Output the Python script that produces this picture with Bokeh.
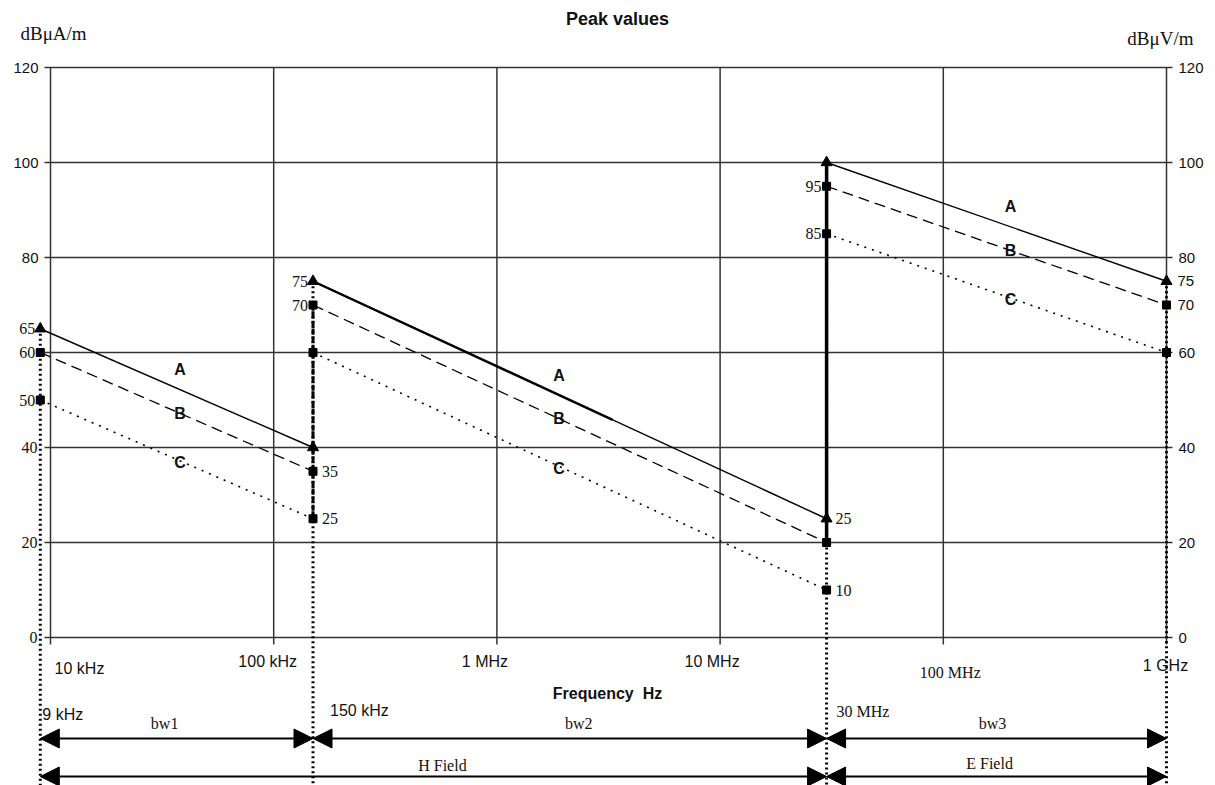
import numpy as np
from bokeh.plotting import figure
from bokeh.models import Range1d, Arrow, NormalHead
from bokeh.core.properties import value
from bokeh.embed import file_html
from bokeh.resources import INLINE

# ---------------- data ----------------
band_start_hz = [9e3, 150e3, 30e6]
band_end_hz = [150e3, 30e6, 1e9]
limit_a_start = [65, 75, 100]
limit_a_end = [40, 25, 75]
limit_b_start = [60, 70, 95]
limit_b_end = [35, 20, 70]
limit_c_start = [50, 60, 85]
limit_c_end = [25, 10, 60]
boundary_hz = [9e3, 150e3, 30e6, 1e9]
boundary_top = [65, 75, 100, 75]
boundary_labels = ["9 kHz", "150 kHz", "30 MHz"]
decade_hz = [1e4, 1e5, 1e6, 1e7, 1e8, 1e9]
decade_labels = ["10 kHz", "100 kHz", "1 MHz", "10 MHz", "100 MHz", "1 GHz"]
y_ticks = [0, 20, 40, 60, 80, 100, 120]
band_names = ["bw1", "bw2", "bw3"]
field_names = ["H Field", "E Field"]
field_start_hz = [9e3, 30e6]
field_end_hz = [30e6, 1e9]
curve_names = ["A", "B", "C"]
curve_label_hz = [38e3, 1.9e6, 200e6]
a_bold_end_hz = 3.3e6

# ---------------- layout helpers (page pixels -> data) ----------------
W, H = 1215, 785
DEC_PX = 223.2
PX_PER_DB = 4.75
def fx(px):
    return 10 ** (4 + (px - 50) / DEC_PX)
def fy(py):
    return (637 - py) / PX_PER_DB

SANS = value("Liberation Sans")
SERIF = value("Liberation Serif")
INK = "#111111"

p = figure(width=W, height=H, x_axis_type="log",
           x_range=Range1d(fx(0), fx(W)), y_range=Range1d(fy(H), fy(0)),
           output_backend="svg", toolbar_location=None, min_border=0,
           x_axis_location=None, y_axis_location=None)
p.outline_line_color = None
p.grid.visible = False
p.background_fill_color = "white"
p.border_fill_color = "white"

# ---------------- grid ----------------
p.segment(x0=[fx(44)] * len(y_ticks), x1=[fx(1172)] * len(y_ticks),
          y0=y_ticks, y1=y_ticks, line_color="#333333", line_width=1.5)
p.segment(x0=decade_hz, x1=decade_hz, y0=[fy(644)] * len(decade_hz),
          y1=[y_ticks[-1]] * len(decade_hz), line_color="#333333", line_width=1.5)

# ---------------- boundary verticals ----------------
bottom = fy(H + 10)
p.segment(x0=boundary_hz, x1=boundary_hz, y0=boundary_top, y1=[bottom] * 4,
          line_color="black", line_width=3, line_dash="2 3")
# 150 kHz dashed overlay and 30 MHz solid overlay
p.segment(x0=[band_start_hz[1]], x1=[band_start_hz[1]], y0=[limit_c_end[0]],
          y1=[limit_b_start[1]], line_color="black", line_width=3, line_dash="6 2")
p.segment(x0=[band_start_hz[2]], x1=[band_start_hz[2]], y0=[limit_b_end[1]],
          y1=[limit_a_start[2]], line_color="black", line_width=3.5)

# ---------------- limit lines ----------------
p.segment(x0=band_start_hz, x1=band_end_hz, y0=limit_a_start, y1=limit_a_end,
          line_color="black", line_width=1.4)
p.segment(x0=band_start_hz, x1=band_end_hz, y0=limit_b_start, y1=limit_b_end,
          line_color="black", line_width=1.3, line_dash="11 6")
p.segment(x0=band_start_hz, x1=band_end_hz, y0=limit_c_start, y1=limit_c_end,
          line_color="black", line_width=1.6, line_dash="2 6")

def on_line(f, f0, f1, v0, v1):
    t = (np.log10(f) - np.log10(f0)) / (np.log10(f1) - np.log10(f0))
    return v0 + t * (v1 - v0)

# bold portion of A in band 2
p.segment(x0=[band_start_hz[1]], x1=[a_bold_end_hz], y0=[limit_a_start[1]],
          y1=[on_line(a_bold_end_hz, band_start_hz[1], band_end_hz[1], limit_a_start[1], limit_a_end[1])],
          line_color="black", line_width=2.4)

# markers
tri_x = band_start_hz + band_end_hz
tri_y = limit_a_start + limit_a_end
p.scatter(tri_x, tri_y, marker="triangle", size=11, color="black")
sq_x = band_start_hz * 2 + band_end_hz * 2
sq_y = limit_b_start + limit_c_start + limit_b_end + limit_c_end
p.scatter(sq_x, sq_y, marker="square", size=8, color="black")

# ---------------- curve labels ----------------
lab_x, lab_y, lab_t, lab_dy = [], [], [], []
for i in range(3):
    f = curve_label_hz[i]
    for name, s, e, dy in (("A", limit_a_start, limit_a_end, 20),
                           ("B", limit_b_start, limit_b_end, 0),
                           ("C", limit_c_start, limit_c_end, -2)):
        lab_x.append(f)
        lab_y.append(on_line(f, band_start_hz[i], band_end_hz[i], s[i], e[i]))
        lab_t.append(name)
        lab_dy.append(dy)
p.text(x=lab_x, y=lab_y, text=lab_t, y_offset=[-d for d in lab_dy],
       text_font=SANS, text_font_style="bold", text_font_size="16px",
       text_align="center", text_baseline="middle", text_color=INK)

# ---------------- value annotations ----------------
left_x = [band_start_hz[0]] * 3 + [band_start_hz[1]] * 2 + [band_start_hz[2]] * 2
left_v = [limit_a_start[0], limit_b_start[0], limit_c_start[0],
          limit_a_start[1], limit_b_start[1], limit_b_start[2], limit_c_start[2]]
p.text(x=left_x, y=left_v, text=[str(v) for v in left_v], x_offset=-5,
       text_font=SERIF, text_font_size="16px", text_align="right",
       text_baseline="middle", text_color=INK)
right_x = [band_end_hz[0]] * 2 + [band_end_hz[1]] * 2
right_v = [limit_b_end[0], limit_c_end[0], limit_a_end[1], limit_c_end[1]]
p.text(x=right_x, y=right_v, text=[str(v) for v in right_v], x_offset=9,
       text_font=SERIF, text_font_size="16px", text_align="left",
       text_baseline="middle", text_color=INK)
r_end_v = [limit_a_end[2], limit_b_end[2]]
p.text(x=[band_end_hz[2]] * 2, y=r_end_v, text=[str(v) for v in r_end_v], x_offset=11,
       text_font=SANS, text_font_size="15px", text_align="left",
       text_baseline="middle", text_color=INK)

# ---------------- y tick labels ----------------
left_sans = [t for t in y_ticks if t >= 80]
left_serif = [t for t in y_ticks if t < 60]
p.text(x=[fx(38)] * len(left_sans), y=left_sans, text=[str(t) for t in left_sans],
       text_font=SANS, text_font_size="15px", text_align="right",
       text_baseline="middle", text_color=INK)
p.text(x=[fx(37)] * len(left_serif), y=left_serif, text=[str(t) for t in left_serif],
       text_font=SERIF, text_font_size="16px", text_align="right",
       text_baseline="middle", text_color=INK)
p.text(x=[fx(1178)] * len(y_ticks), y=y_ticks, text=[str(t) for t in y_ticks],
       text_font=SANS, text_font_size="15px", text_align="left",
       text_baseline="middle", text_color=INK)

# ---------------- units & title ----------------
p.text(x=[fx(20)], y=[fy(33)], text=["dBμA/m"], text_font=SERIF, text_font_size="19px",
       text_align="left", text_baseline="middle", text_color=INK)
p.text(x=[fx(1193)], y=[fy(38)], text=["dBμV/m"], text_font=SERIF, text_font_size="19px",
       text_align="right", text_baseline="middle", text_color=INK)
p.text(x=[fx(617)], y=[fy(18)], text=["Peak values"], text_font=SANS, text_font_style="bold",
       text_font_size="18px", text_align="center", text_baseline="middle", text_color=INK)

# ---------------- frequency labels ----------------
dec_dx = [29, -6, -12, -8, 7, -1]
dec_py = [668, 661, 661, 661, 672, 665]
for f, lab, dx, py in zip(decade_hz, decade_labels, dec_dx, dec_py):
    serif = lab == "100 MHz"
    p.text(x=[f], y=[fy(py)], text=[lab], x_offset=dx,
           text_font=SERIF if serif else SANS, text_font_size="16px",
           text_align="center", text_baseline="middle", text_color=INK)
p.text(x=[fx(607)], y=[fy(693)], text=["Frequency\u00a0\u00a0Hz"], text_font=SANS,
       text_font_style="bold", text_font_size="16px", text_align="center",
       text_baseline="middle", text_color=INK)

b_dx = [2, 17, 10]
b_py = [714, 710, 711]
for i, lab in enumerate(boundary_labels):
    p.text(x=[boundary_hz[i]], y=[fy(b_py[i])], text=[lab], x_offset=b_dx[i],
           text_font=SERIF if i == 2 else SANS, text_font_size="16px",
           text_align="left", text_baseline="middle", text_color=INK)

# ---------------- bandwidth / field arrows ----------------
def mid_hz(a, b):
    return 10 ** ((np.log10(a) + np.log10(b)) / 2)

row1 = fy(738)
row2 = fy(776)
bw_dx = [-12, 9, -4]
for i, name in enumerate(band_names):
    p.add_layout(Arrow(x_start=band_start_hz[i], x_end=band_end_hz[i], y_start=row1, y_end=row1,
                       line_color="black", line_width=2,
                       start=NormalHead(size=19, fill_color="black", line_color="black"),
                       end=NormalHead(size=19, fill_color="black", line_color="black")))
    p.text(x=[mid_hz(band_start_hz[i], band_end_hz[i])], y=[fy(723)], text=[name], x_offset=bw_dx[i],
           text_font=SERIF, text_font_size="16px", text_align="center",
           text_baseline="middle", text_color=INK)
fl_dx = [9, -7]
fl_py = [765, 763]
for i, name in enumerate(field_names):
    p.add_layout(Arrow(x_start=field_start_hz[i], x_end=field_end_hz[i], y_start=row2, y_end=row2,
                       line_color="black", line_width=2,
                       start=NormalHead(size=19, fill_color="black", line_color="black"),
                       end=NormalHead(size=19, fill_color="black", line_color="black")))
    p.text(x=[mid_hz(field_start_hz[i], field_end_hz[i])], y=[fy(fl_py[i])], text=[name],
           x_offset=fl_dx[i], text_font=SERIF, text_font_size="16px", text_align="center",
           text_baseline="middle", text_color=INK)

open("out.html", "w").write(file_html(p, INLINE))
